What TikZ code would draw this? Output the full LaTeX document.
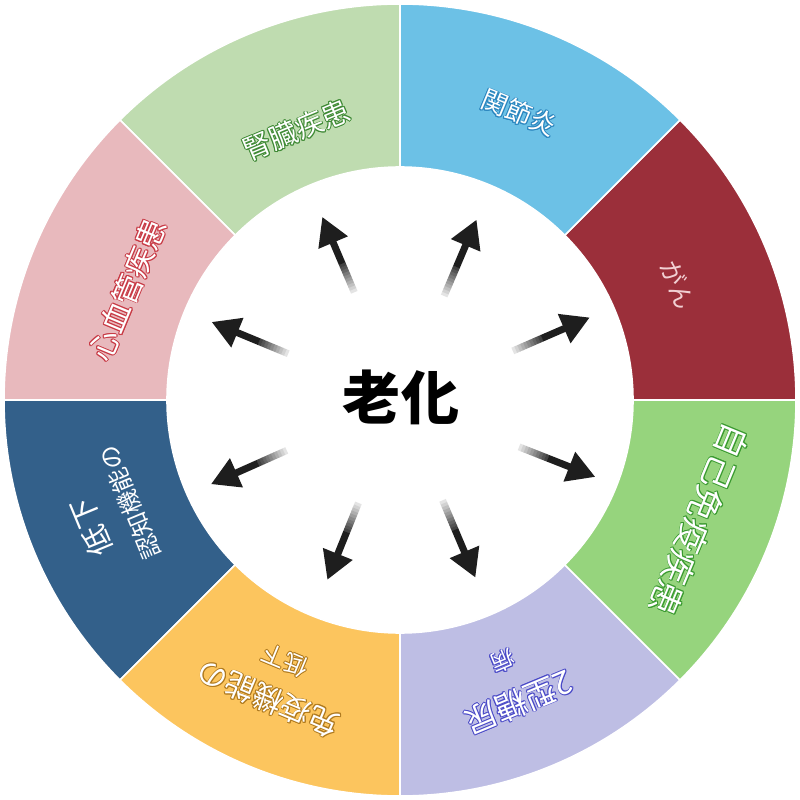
\documentclass[tikz,border=0pt]{standalone}
\usepackage{fontspec}
\newfontfamily\cjk{Noto Sans CJK JP}
\usetikzlibrary{arrows.meta,calc}
\definecolor{cRed}{RGB}{155,47,58}
\definecolor{cBlue}{RGB}{108,193,230}
\definecolor{cLgreen}{RGB}{191,220,176}
\definecolor{cPink}{RGB}{232,185,189}
\definecolor{cDblue}{RGB}{51,96,138}
\definecolor{cYellow}{RGB}{252,197,94}
\definecolor{cLav}{RGB}{190,190,228}
\definecolor{cGreen}{RGB}{150,212,125}
\definecolor{oLgreen}{RGB}{63,138,53}
\definecolor{oBlue}{RGB}{43,134,191}
\definecolor{oPink}{RGB}{200,58,69}
\definecolor{oGreen}{RGB}{58,154,48}
\definecolor{oLav}{RGB}{74,74,200}
\definecolor{oYellow}{RGB}{176,122,30}
\definecolor{ganc}{RGB}{242,208,211}
\definecolor{arrowc}{RGB}{30,30,30}
\newcommand\fsz[1]{\fontsize{#1}{#1}\selectfont}
\newcommand\olt[2]{\leavevmode\setbox0\hbox{#2}%
\rlap{\kern0.9pt\textcolor{#1}{\copy0}}%
\rlap{\kern-0.9pt\textcolor{#1}{\copy0}}%
\rlap{\raise0.9pt\hbox{\textcolor{#1}{\copy0}}}%
\rlap{\lower0.9pt\hbox{\textcolor{#1}{\copy0}}}%
\rlap{\kern0.64pt\raise0.64pt\hbox{\textcolor{#1}{\copy0}}}%
\rlap{\kern-0.64pt\raise0.64pt\hbox{\textcolor{#1}{\copy0}}}%
\rlap{\kern0.64pt\lower0.64pt\hbox{\textcolor{#1}{\copy0}}}%
\rlap{\kern-0.64pt\lower0.64pt\hbox{\textcolor{#1}{\copy0}}}%
\box0}
\tikzset{
  seg/.style={draw=white, line width=1.6pt},
  lbl/.style={inner sep=0pt, text=white, font=\cjk},
  arr/.style={draw=arrowc, line width=7pt, -{Triangle[length=28pt,width=30pt]}},
}
\begin{document}
\begin{tikzpicture}
\useasboundingbox (-400pt,-400pt) rectangle (400pt,400pt);
\fill[white] (-400pt,-400pt) rectangle (400pt,400pt);
% ring
\foreach \a/\c in {0/cRed,45/cBlue,90/cLgreen,135/cPink,180/cDblue,225/cYellow,270/cLav,315/cGreen}{
  \pgfmathsetmacro\b{\a+45}
  \path[seg, fill=\c] (\a:233pt) -- (\a:396pt) arc[start angle=\a, end angle=\b, radius=396pt]
     -- (\b:233pt) arc[start angle=\b, end angle=\a, radius=233pt] -- cycle;
}
% labels
\node[lbl, rotate=22.5, font=\cjk\fsz{28}] (kidney) at (111:289pt) {\olt{oLgreen}{腎臓疾患}};
\node[lbl, rotate=-22.5, font=\cjk\fsz{26}] (joint) at (67.5:311pt) {\olt{oBlue}{関節炎}};
\node[lbl, rotate=-67.5, font=\cjk\fsz{25}, text=ganc] (cancer) at (22.5:301pt) {がん};
\node[lbl, rotate=-112.5, font=\cjk\fsz{34}] (auto) at (-21.8:323pt) {\olt{oGreen}{自己免疫疾患}};
\node[lbl, rotate=-157.5, font=\cjk\fsz{32}] (diab1) at (-68.5:325pt) {\olt{oLav}{2型糖尿}};
\node[lbl, rotate=-157.5, font=\cjk\fsz{23}] (diab2) at (-68.5:281pt) {\olt{oLav}{病}};
\node[lbl, rotate=157.5, font=\cjk\fsz{30}] (immu1) at (246.2:327pt) {\olt{oYellow}{免疫機能の}};
\node[lbl, rotate=157.5, font=\cjk\fsz{24}] (immu2) at (246.2:285pt) {\olt{oYellow}{低下}};
\node[lbl, rotate=112.5, font=\cjk\fsz{30}] (cog1) at (202.4:334pt) {低下};
\node[lbl, rotate=112.5, font=\cjk\fsz{24}] (cog2) at (200.8:289pt) {認知機能の};
\node[lbl, rotate=67.5, font=\cjk\fsz{30}] (cardio) at (158:294pt) {\olt{oPink}{心血管疾患}};
% center
\node[font=\cjk\bfseries\fsz{58}, inner sep=0pt] (aging) at (1pt,3pt) {老化};
% arrows
\foreach \i/\ang/\rt/\rh in {1/113/117/199, 2/157.5/121/204, 3/67/113/196, 4/23.5/123/207,
    5/-21.5/128/210, 6/-67/109/193, 7/248/111/194, 8/204/124/207}{
  \coordinate (t\i) at (\ang:\rt pt);
  \coordinate (h\i) at (\ang:\rh pt);
  \coordinate (m\i) at ($(t\i)!0.38!(h\i)$);
}
\foreach \i in {1,...,8}{
  \foreach \k in {0,...,9}{
    \pgfmathsetmacro\pa{\k*0.038}
    \pgfmathsetmacro\pb{\k*0.038+0.042}
    \pgfmathtruncatemacro\pc{12+8*\k}
    \draw[line width=7pt, color=arrowc!\pc!white] ($(t\i)!\pa!(h\i)$) -- ($(t\i)!\pb!(h\i)$);
  }
  \draw[arr] (m\i) -- (h\i);
}
\end{tikzpicture}
\end{document}
